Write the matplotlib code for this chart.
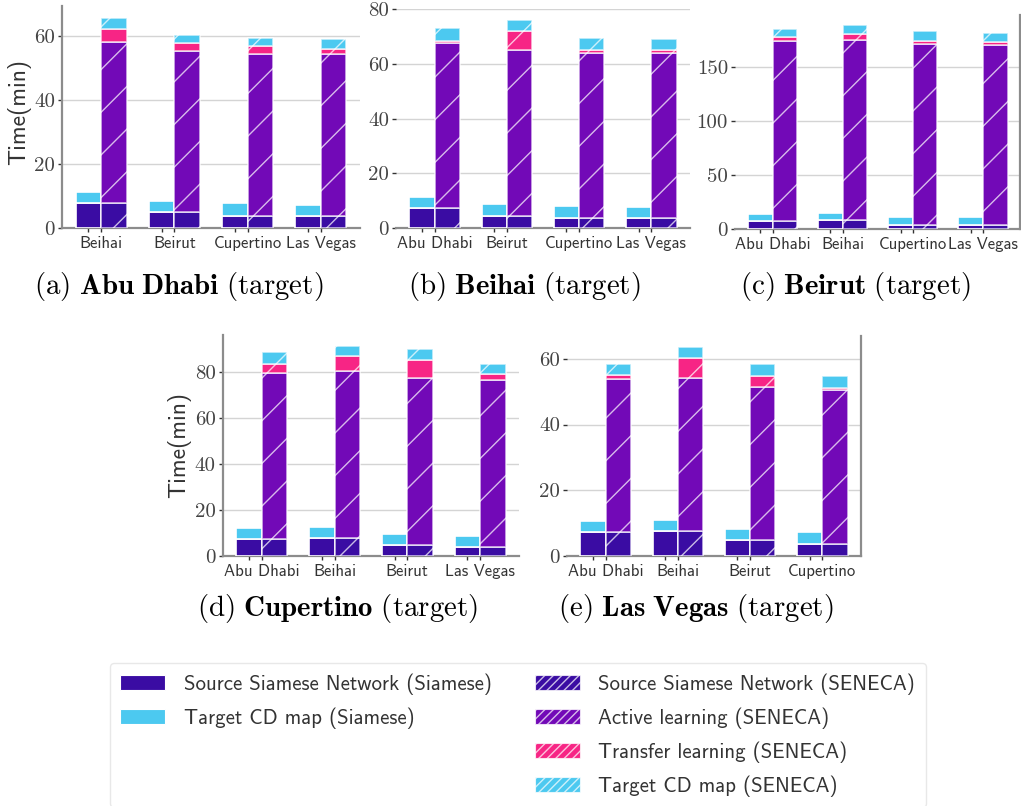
import matplotlib
matplotlib.use("Agg")
import matplotlib.pyplot as plt
from matplotlib.patches import Patch
from matplotlib.ticker import MultipleLocator
import numpy as np

# render at 128 dpi so hatch spacing is a bit wider; sizes below are given
# as pixel-ish values at 100 dpi and converted with K
DPI = 128
K = 100 / DPI

plt.rcParams["mathtext.fontset"] = "cm"
plt.rcParams["hatch.linewidth"] = 1.0 * K
plt.rcParams["axes.unicode_minus"] = False

# ---- data (minutes) ----
cities = ["Abu Dhabi", "Beihai", "Beirut", "Cupertino", "Las Vegas"]
panel_tags = ["a", "b", "c", "d", "e"]

# one row per target city, columns follow the remaining source cities in order
siamese_source = [[7.8, 4.9, 3.9, 3.6],
                  [7.2, 4.5, 3.7, 3.5],
                  [7.0, 7.8, 3.2, 3.2],
                  [7.2, 7.5, 4.5, 3.6],
                  [7.2, 7.5, 4.7, 3.7]]
siamese_cd = [[3.5, 3.6, 3.8, 3.6],
              [4.1, 4.3, 4.3, 4.2],
              [7.0, 7.1, 7.7, 7.7],
              [4.8, 4.8, 4.9, 4.8],
              [3.4, 3.4, 3.3, 3.5]]
seneca_source = [[7.8, 4.9, 3.9, 3.6],
                 [7.2, 4.5, 3.7, 3.5],
                 [7.0, 7.8, 3.2, 3.2],
                 [7.2, 7.5, 4.5, 3.6],
                 [7.2, 7.5, 4.7, 3.7]]
seneca_active = [[50.3, 50.5, 50.5, 50.8],
                 [60.4, 60.5, 60.2, 60.4],
                 [167.6, 167.1, 168.0, 167.3],
                 [72.4, 72.8, 72.7, 72.6],
                 [46.8, 46.8, 46.7, 46.8]]
seneca_transfer = [[4.2, 2.4, 2.4, 1.5],
                   [0.9, 7.1, 1.3, 1.3],
                   [3.3, 5.9, 3.0, 2.8],
                   [3.9, 6.4, 8.0, 2.6],
                   [1.0, 5.9, 3.4, 0.7]]
seneca_cd = [[3.5, 2.6, 2.5, 3.1],
             [4.5, 4.0, 4.4, 3.9],
             [7.5, 8.0, 8.8, 8.1],
             [4.9, 4.6, 4.5, 4.7],
             [3.5, 3.4, 3.6, 3.7]]

# ---- styling ----
C_SRC = "#3a0ca3"
C_ACT = "#7209b7"
C_TRF = "#f72585"
C_CD = "#4cc9f0"
EDGE_SEN = (1, 1, 1, 0.72)
TXT = "#333333"
SPINE = "#8c8c8c"
GRID = "#d4d4d4"

W, H = 1021, 806
fig = plt.figure(figsize=(W / DPI, H / DPI), dpi=DPI)


def px_rect(l, t, r, b):
    return [l / W, 1 - b / H, (r - l) / W, (b - t) / H]


# panel boxes in pixels: left, top, right, bottom
boxes = [(62, 6, 360, 228),
         (396, 8.5, 690, 228),
         (735, 15, 1020.5, 228.7),
         (222.8, 335, 519, 555.7),
         (567, 336, 861, 555.7)]
y_tops = [69.4, 80.3, 198.3, 95.9, 67.0]
y_steps = [20, 20, 50, 20, 20]
spine_side = ["left", None, "right", "left", "right"]
captions_xy = [(178.5, 294), (524, 294), (855, 294), (337.5, 616), (696, 616)]

bw = 0.35
for i, tgt in enumerate(cities):
    ax = fig.add_axes(px_rect(*boxes[i]))
    srcs = [c for c in cities if c != tgt]
    x = np.arange(len(srcs))
    xs = x - bw / 2
    xn = x + bw / 2

    s_src = np.array(siamese_source[i])
    s_cd = np.array(siamese_cd[i])
    n_src = np.array(seneca_source[i])
    n_act = np.array(seneca_active[i])
    n_trf = np.array(seneca_transfer[i])
    n_cd = np.array(seneca_cd[i])

    # Siamese baseline bars
    ax.bar(xs, s_src, bw, color=C_SRC, edgecolor="white", linewidth=1.2 * K, zorder=3)
    ax.bar(xs, s_cd, bw, bottom=s_src, color=C_CD, edgecolor="white",
           linewidth=1.2 * K, zorder=3)

    # SENECA stacked hatched bars
    bottom = np.zeros(len(srcs))
    for vals, col in [(n_src, C_SRC), (n_act, C_ACT), (n_trf, C_TRF), (n_cd, C_CD)]:
        ax.bar(xn, vals, bw, bottom=bottom, color=col, edgecolor=EDGE_SEN,
               linewidth=1.2 * K, hatch="/", zorder=3)
        bottom = bottom + vals

    ax.set_xlim(-0.535, len(srcs) - 1 + 0.535)
    ax.set_ylim(0, y_tops[i])
    ax.yaxis.set_major_locator(MultipleLocator(y_steps[i]))
    ax.grid(axis="y", color=GRID, linewidth=1.0 * K, zorder=0)
    ax.grid(axis="x", visible=False)
    ax.set_axisbelow(True)

    ax.set_xticks(x)
    ax.set_xticklabels(srcs)
    ax.set_xticks(xs, minor=True)
    ax.tick_params(axis="x", which="both", length=3 * K, width=1 * K, color=TXT,
                   labelsize=12 * K, labelcolor=TXT, labelfontfamily="cmss10", pad=3 * K)
    ax.tick_params(axis="y", length=3 * K, width=1 * K, color=TXT, labelsize=15 * K,
                   labelcolor="#444444", labelfontfamily="cmr10", pad=2 * K)

    for side in ["top", "left", "right"]:
        ax.spines[side].set_visible(False)
    ax.spines["bottom"].set_color(SPINE)
    ax.spines["bottom"].set_linewidth(1.6 * K)
    if spine_side[i] is not None:
        ax.spines[spine_side[i]].set_visible(True)
        ax.spines[spine_side[i]].set_color(SPINE)
        ax.spines[spine_side[i]].set_linewidth(1.6 * K)

    name = tgt.replace(" ", r"\ ")
    cx, cy = captions_xy[i]
    fig.text(cx / W, 1 - cy / H,
             r"$\mathrm{(%s)}\ \mathbf{%s}\ \mathrm{(target)}$" % (panel_tags[i], name),
             ha="center", va="baseline", fontsize=20.8 * K, color="black")

# y-axis titles for the left-most panels
fig.text(19 / W, 1 - 112 / H, "Time(min)", rotation=90, ha="center", va="center",
         fontsize=17 * K, family="cmss10", color=TXT)
fig.text(179 / W, 1 - 445 / H, "Time(min)", rotation=90, ha="center", va="center",
         fontsize=17 * K, family="cmss10", color=TXT)

# ---- legend ----
handles = [
    Patch(facecolor=C_SRC, edgecolor="white", linewidth=0.8 * K),
    Patch(facecolor=C_CD, edgecolor="white", linewidth=0.8 * K),
    Patch(visible=False),
    Patch(visible=False),
    Patch(facecolor=C_SRC, edgecolor=EDGE_SEN, hatch="/////", linewidth=0.8 * K),
    Patch(facecolor=C_ACT, edgecolor=EDGE_SEN, hatch="/////", linewidth=0.8 * K),
    Patch(facecolor=C_TRF, edgecolor=EDGE_SEN, hatch="/////", linewidth=0.8 * K),
    Patch(facecolor=C_CD, edgecolor=EDGE_SEN, hatch="/////", linewidth=0.8 * K),
]
labels = [
    "Source Siamese Network (Siamese)",
    "Target CD map (Siamese)",
    "",
    "",
    "Source Siamese Network (SENECA)",
    "Active learning (SENECA)",
    "Transfer learning (SENECA)",
    "Target CD map (SENECA)",
]
leg = fig.legend(handles, labels, loc="upper left",
                 bbox_to_anchor=(110 / W, 1 - 663 / H), ncol=2, frameon=True,
                 prop=dict(family="cmss10", size=15 * K), handlelength=2.16,
                 handleheight=0.72, handletextpad=0.87, columnspacing=2.1,
                 labelspacing=0.6, borderpad=0.5, borderaxespad=0, fancybox=True)
leg.get_frame().set_edgecolor("#e3e3e3")
leg.get_frame().set_linewidth(1.0 * K)
for t in leg.get_texts():
    t.set_color(TXT)

fig.savefig("out.png", dpi=DPI)
